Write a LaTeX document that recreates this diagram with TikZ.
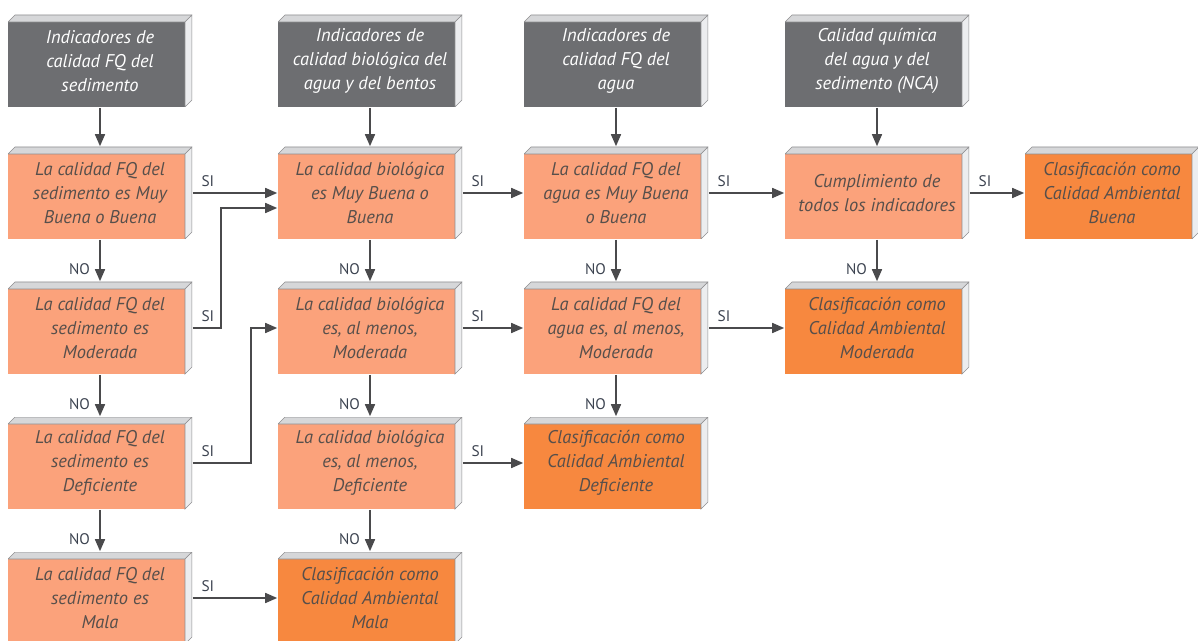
\documentclass[tikz,border=0pt]{standalone}
\usepackage{fontspec}
\setmainfont{PT Sans}
\usetikzlibrary{arrows.meta}
\definecolor{gris}{HTML}{6D6E71}
\definecolor{naranja}{HTML}{FBA27B}
\definecolor{naranjafuerte}{HTML}{F7883F}
\definecolor{biseltop}{HTML}{D6D7D9}
\definecolor{biselside}{HTML}{ECEDEF}
\definecolor{borde}{HTML}{8E8E90}
\definecolor{linea}{HTML}{4A4A4C}
\definecolor{texto}{HTML}{574F4B}
\definecolor{etiqueta}{HTML}{3C4350}
\tikzset{
  caja/.style={minimum width=138pt, minimum height=69pt, inner sep=0pt, align=center,
    font=\fontsize{13.8}{18.2}\selectfont\itshape, text=texto,
    execute at begin node={\rule{0pt}{15.5pt}},
    path picture={
      \fill[#1] (path picture bounding box.south west) rectangle ([xshift=-5.25pt,yshift=-5.25pt]path picture bounding box.north east);
      \filldraw[fill=biseltop,draw=borde,line width=0.5pt] ([yshift=-5.25pt]path picture bounding box.north west) -- ([xshift=5.25pt]path picture bounding box.north west)
        -- (path picture bounding box.north east) -- ([xshift=-5.25pt,yshift=-5.25pt]path picture bounding box.north east) -- cycle;
      \filldraw[fill=biselside,draw=borde,line width=0.5pt] ([xshift=-5.25pt,yshift=-5.25pt]path picture bounding box.north east) -- (path picture bounding box.north east)
        -- ([yshift=5.25pt]path picture bounding box.south east) -- ([xshift=-5.25pt]path picture bounding box.south east) -- cycle;
    }},
  si/.style={pos=0, above right, inner sep=0pt, xshift=6pt, yshift=4.5pt, font=\fontsize{11.5}{13}\selectfont, text=etiqueta},
  no/.style={pos=0.7, left, inner sep=0pt, xshift=-7pt, font=\fontsize{11.5}{13}\selectfont, text=etiqueta}
}
\begin{document}
\begin{tikzpicture}[x=0.75pt,y=-0.75pt,>={Triangle[length=9pt,width=7.5pt]},line width=1.2pt]
\useasboundingbox (0,0) rectangle (1198,641);
\node[caja=gris,text=white] (ind1) at (100,61) {Indicadores de\\calidad FQ del\\sedimento};
\node[caja=gris,text=white] (ind2) at (370,61) {Indicadores de\\calidad biológica del\\agua y del bentos};
\node[caja=gris,text=white] (ind3) at (616,61) {Indicadores de\\calidad FQ del\\agua};
\node[caja=gris,text=white] (ind4) at (877,61) {Calidad química\\del agua y del\\sedimento (NCA)};
\node[caja=naranja] (sed1) at (100,193) {La calidad FQ del\\sedimento es Muy\\Buena o Buena};
\node[caja=naranja] (sed2) at (100,328) {La calidad FQ del\\sedimento es\\Moderada};
\node[caja=naranja] (sed3) at (100,463) {La calidad FQ del\\sedimento es\\Deficiente};
\node[caja=naranja] (sed4) at (100,598) {La calidad FQ del\\sedimento es\\Mala};
\node[caja=naranja] (bio1) at (370,193) {La calidad biológica\\es Muy Buena o\\Buena};
\node[caja=naranja] (bio2) at (370,328) {La calidad biológica\\es, al menos,\\Moderada};
\node[caja=naranja] (bio3) at (370,463) {La calidad biológica\\es, al menos,\\Deficiente};
\node[caja=naranjafuerte] (mala) at (370,598) {Clasificación como\\Calidad Ambiental\\Mala};
\node[caja=naranja] (agua1) at (616,193) {La calidad FQ del\\agua es Muy Buena\\o Buena};
\node[caja=naranja] (agua2) at (616,328) {La calidad FQ del\\agua es, al menos,\\Moderada};
\node[caja=naranjafuerte] (deficiente) at (616,463) {Clasificación como\\Calidad Ambiental\\Deficiente};
\node[caja=naranja] (nca) at (877,193) {Cumplimiento de\\todos los indicadores};
\node[caja=naranjafuerte] (moderada) at (877,328) {Clasificación como\\Calidad Ambiental\\Moderada};
\node[caja=naranjafuerte,minimum width=130.5pt] (buena) at (1112,193) {Clasificación como\\Calidad Ambiental\\Buena};
\draw[->,linea] (ind1.south) -- (sed1.north);
\draw[->,linea] (ind2.south) -- (bio1.north);
\draw[->,linea] (ind3.south) -- (agua1.north);
\draw[->,linea] (ind4.south) -- (nca.north);
\draw[->,linea] (sed1.south) -- node[no] {NO} (sed2.north);
\draw[->,linea] (sed2.south) -- node[no] {NO} (sed3.north);
\draw[->,linea] (sed3.south) -- node[no] {NO} (sed4.north);
\draw[->,linea] (bio1.south) -- node[no] {NO} (bio2.north);
\draw[->,linea] (bio2.south) -- node[no] {NO} (bio3.north);
\draw[->,linea] (bio3.south) -- node[no] {NO} (mala.north);
\draw[->,linea] (agua1.south) -- node[no] {NO} (agua2.north);
\draw[->,linea] (agua2.south) -- node[no] {NO} (deficiente.north);
\draw[->,linea] (nca.south) -- node[no] {NO} (moderada.north);
\draw[->,linea] (sed1.east) -- node[si] {SI} (bio1.west);
\draw[->,linea] (sed2.east) -- node[si] {SI} ++(28,0) |- ([yshift=-11.25pt]bio1.west);
\draw[->,linea] (sed3.east) -- node[si] {SI} ++(58,0) |- (bio2.west);
\draw[->,linea] (sed4.east) -- node[si] {SI} (mala.west);
\draw[->,linea] (bio1.east) -- node[si] {SI} (agua1.west);
\draw[->,linea] (bio2.east) -- node[si] {SI} (agua2.west);
\draw[->,linea] (bio3.east) -- node[si] {SI} (deficiente.west);
\draw[->,linea] (agua1.east) -- node[si] {SI} (nca.west);
\draw[->,linea] (agua2.east) -- node[si] {SI} (moderada.west);
\draw[->,linea] (nca.east) -- node[si] {SI} (buena.west);
\end{tikzpicture}
\end{document}
